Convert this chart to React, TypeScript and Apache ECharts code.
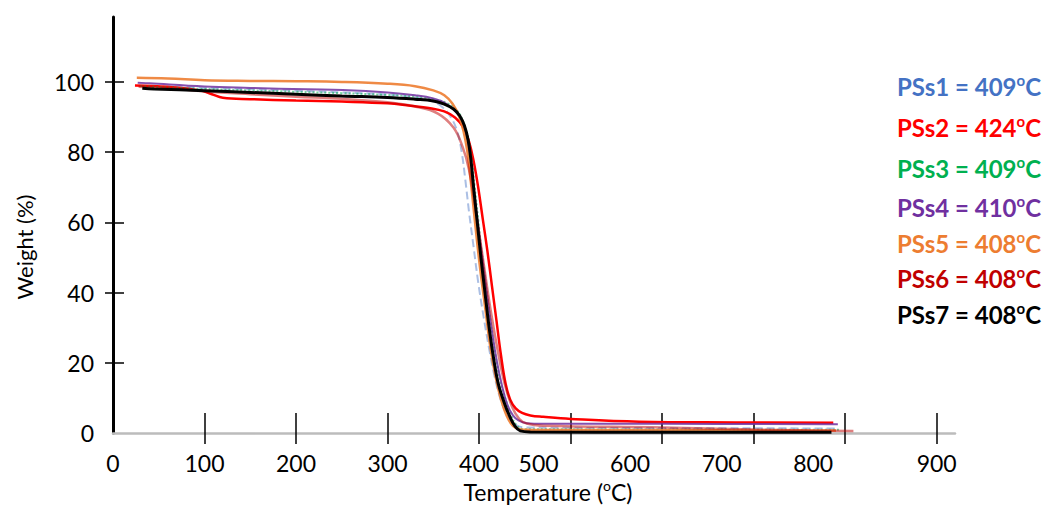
import React, { useEffect, useRef } from "react";
import * as echarts from "echarts";

// TGA curves of the PSs samples: [temperature (°C), weight (%)]
const seriesNames = ["PSs1", "PSs2", "PSs3", "PSs4", "PSs5", "PSs6", "PSs7"];
const decompTemps = [409, 424, 409, 410, 408, 408, 408];
const seriesColors = ["#4472C4", "#FF0000", "#00B050", "#7030A0", "#ED7D31", "#C00000", "#000000"];

const xTickValues = [100, 200, 300, 400, 500, 600, 700, 800, 900];
const xLabelValues = [0, 100, 200, 300, 400, 500, 600, 700, 800, 900];
const yTickValues = [20, 40, 60, 80, 100];
const yLabelValues = [0, 20, 40, 60, 80, 100];

const pss1Curve: [number, number][] = [
  [28, 99.0], [100, 98.3], [150, 97.9], [200, 97.5], [250, 97.0], [300, 96.4], [330, 95.6],
  [348, 94.6], [360, 92.8], [369, 90], [376, 86], [381, 80], [385, 72], [389, 63], [394, 53],
  [399, 43], [405, 33], [411, 24], [417, 16], [423, 10], [429, 6], [435, 3.5], [441, 2.2],
  [450, 1.6], [600, 1.4], [792, 1.3],
];
const pss2Curve: [number, number][] = [
  [24, 99.0], [60, 98.6], [95, 97.6], [108, 96.5], [120, 95.5], [150, 95.1], [200, 94.7],
  [250, 94.4], [300, 93.9], [325, 93.2], [345, 92.6], [362, 91.6], [374, 89.8], [383, 87],
  [389, 83], [394, 77.5], [399, 70], [404, 61], [409, 52], [414, 42], [419, 32], [424, 22],
  [429, 14], [434, 9.5], [440, 7], [447, 5.7], [456, 5], [470, 4.6], [500, 4.0], [575, 3.2],
  [680, 3.0], [787, 2.9],
];
const pss3Curve: [number, number][] = [
  [30, 98.8], [100, 98.0], [150, 97.6], [200, 97.2], [250, 96.8], [300, 96.3], [330, 95.8],
  [352, 95], [366, 93.8], [376, 91.8], [383, 88.5], [388, 84], [392, 78], [395, 70.5], [399, 61],
  [403, 51], [408, 41], [413, 31], [418, 22], [423, 15], [429, 9.5], [435, 5], [441, 2.2],
  [448, 1.1], [600, 1.0], [795, 0.9],
];
const pss4Curve: [number, number][] = [
  [27, 99.8], [40, 99.6], [100, 98.7], [150, 98.3], [212, 97.9], [251, 97.7], [300, 97.0],
  [330, 96.2], [350, 95.3], [363, 94], [373, 92], [380, 89.5], [386, 85], [390, 79], [394, 70],
  [398, 61], [403, 51], [408, 41], [413, 31], [419, 21], [425, 13.5], [431, 8], [437, 5],
  [443, 3.6], [452, 2.8], [470, 2.6], [600, 2.6], [792, 2.5],
];
const pss5Curve: [number, number][] = [
  [26, 101.2], [60, 101.0], [100, 100.5], [150, 100.3], [200, 100.2], [250, 100.0], [300, 99.5],
  [330, 98.8], [350, 97.6], [362, 96.2], [371, 93.8], [378, 90.3], [383, 86], [387, 80.5],
  [390, 74], [394, 64], [398, 54], [402, 45], [407, 35], [412, 25], [418, 16], [424, 9.5],
  [430, 5], [437, 2], [444, 1.1], [455, 0.9], [600, 0.8], [790, 0.7],
];
const pss6Curve: [number, number][] = [
  [28, 98.6], [60, 98.2], [100, 97.3], [150, 96.5], [200, 95.8], [250, 95.2], [300, 94.2],
  [330, 93.0], [355, 91], [372, 87], [382, 81.5], [389, 75], [396, 64], [404, 50], [412, 36],
  [420, 24], [428, 14], [436, 7.5], [444, 4], [452, 2.7], [470, 2.1], [600, 1.6], [700, 1.0],
  [760, 0.7], [809, 0.6],
];
const pss7Curve: [number, number][] = [
  [32, 98.2], [45, 98.0], [100, 97.5], [150, 97.0], [200, 96.5], [250, 96.0], [300, 95.6],
  [330, 95.1], [350, 94.6], [362, 93.7], [372, 92.3], [379, 90.3], [384, 87.5], [388, 83.5],
  [391, 78], [394, 70], [398, 60], [402, 50], [406, 41], [411, 30], [416, 21], [421, 14],
  [427, 9], [433, 5], [439, 2], [445, 0.6], [456, 0.3], [600, 0.2], [785, 0.2],
];

const curves = [pss1Curve, pss2Curve, pss3Curve, pss4Curve, pss5Curve, pss6Curve, pss7Curve];

// per-series line appearance
const lineLooks = [
  { width: 2, type: "dashed", opacity: 0.45 },
  { width: 2.5, type: "solid", opacity: 1 },
  { width: 2, type: "dotted", opacity: 0.55 },
  { width: 2, type: "solid", opacity: 0.85 },
  { width: 2.5, type: "solid", opacity: 0.9 },
  { width: 2.5, type: "solid", opacity: 0.5 },
  { width: 3, type: "solid", opacity: 1 },
];
const legendRows = [86, 127, 168, 207, 243, 278, 314];
const shiftedXLabels = [500, 600, 700, 800];

const FONT = "Lato, 'Open Sans', sans-serif";

export default function App() {
  const ref = useRef<HTMLDivElement>(null);

  useEffect(() => {
    if (!ref.current) return;
    const chart = echarts.init(ref.current, undefined, { renderer: "svg" });

    const series = curves.map((data, i) => ({
      name: seriesNames[i],
      type: "line",
      data,
      xAxisIndex: 0,
      yAxisIndex: 0,
      showSymbol: false,
      symbol: "none",
      smooth: 0.4,
      z: i === 6 ? 4 : 2,
      lineStyle: {
        color: seriesColors[i],
        width: lineLooks[i].width,
        type: lineLooks[i].type,
        opacity: lineLooks[i].opacity,
      },
    }));

    const legendTexts = seriesNames.map((name, i) => ({
      type: "text",
      x: 897,
      y: legendRows[i],
      style: {
        text: `{n|${name} = ${decompTemps[i]}}{s|o}{n|C}`,
        fill: seriesColors[i],
        verticalAlign: "middle",
        align: "left",
        rich: {
          n: { fontFamily: FONT, fontWeight: "bold", fontSize: 24, lineHeight: 28, fill: seriesColors[i], color: seriesColors[i] },
          s: { fontFamily: FONT, fontWeight: "bold", fontSize: 15, lineHeight: 15, verticalAlign: "top", fill: seriesColors[i], color: seriesColors[i] },
        },
      },
    }));

    const option = {
      animation: false,
      backgroundColor: "#ffffff",
      grid: { left: 113, right: 93, top: 17, bottom: 73, containLabel: false, outerBoundsMode: "none" },
      xAxis: [
        {
          type: "value",
          min: 0,
          max: 920,
          position: "bottom",
          name: "{a|Temperature (}{s|o}{a|C)}",
          nameLocation: "middle",
          nameGap: 44,
          nameTextStyle: {
            padding: [0, 0, 0, 28],
            rich: {
              a: { fontFamily: FONT, fontSize: 23, color: "#000", lineHeight: 26 },
              s: { fontFamily: FONT, fontSize: 14, color: "#000", lineHeight: 14, verticalAlign: "top" },
            },
          },
          axisLine: { show: true, onZero: false, lineStyle: { color: "#bcbcbc", width: 2.5 } },
          axisTick: { show: true, customValues: xTickValues, length: 11, lineStyle: { color: "#000", width: 1.5 } },
          axisLabel: {
            customValues: xLabelValues,
            margin: 18,
            formatter: (v: number) => (shiftedXLabels.includes(v) ? `{m|${v}}` : `{d|${v}}`),
            rich: {
              d: { fontFamily: FONT, fontSize: 23, color: "#000" },
              m: { fontFamily: FONT, fontSize: 23, color: "#000", padding: [0, 64, 0, 0] },
            },
          },
          splitLine: { show: false },
        },
        {
          type: "value",
          min: 0,
          max: 920,
          position: "bottom",
          axisLine: { show: false, onZero: false },
          axisTick: { show: true, inside: true, customValues: xTickValues, length: 20, lineStyle: { color: "#000", width: 1.5 } },
          axisLabel: { show: false },
          splitLine: { show: false },
        },
      ],
      yAxis: [
        {
          type: "value",
          min: 0,
          max: 118.5,
          position: "left",
          name: "Weight (%)",
          nameLocation: "middle",
          nameRotate: 90,
          nameGap: 78,
          nameTextStyle: { fontFamily: FONT, fontSize: 22, color: "#000", padding: [0, 44, 0, 0] },
          axisLine: { show: true, onZero: false, lineStyle: { color: "#000", width: 3 } },
          axisTick: { show: true, customValues: yTickValues, length: 8, lineStyle: { color: "#000", width: 1.5 } },
          axisLabel: { customValues: yLabelValues, margin: 19, fontFamily: FONT, fontSize: 23, color: "#000" },
          splitLine: { show: false },
        },
        {
          type: "value",
          min: 0,
          max: 118.5,
          position: "left",
          axisLine: { show: false, onZero: false },
          axisTick: { show: true, inside: true, customValues: yTickValues, length: 11, lineStyle: { color: "#000", width: 1.5 } },
          axisLabel: { show: false },
          splitLine: { show: false },
        },
      ],
      graphic: legendTexts,
      series,
    };

    chart.setOption(option as any);
    return () => chart.dispose();
  }, []);

  return (
    <div
      ref={ref}
      style={{ position: "fixed", left: 0, top: 0, width: 1048, height: 506, background: "#fff" }}
    />
  );
}
